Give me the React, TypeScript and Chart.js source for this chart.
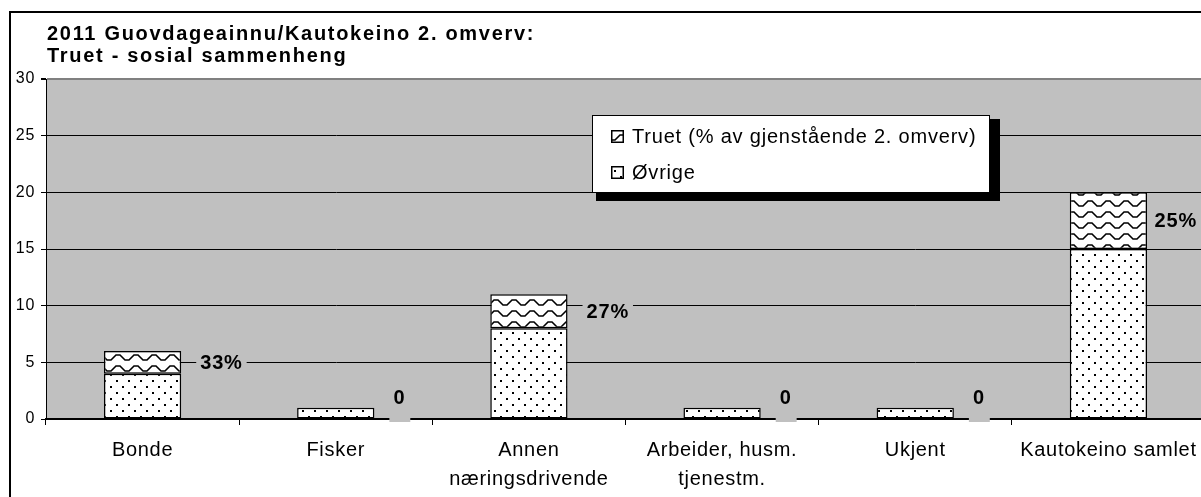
import React, { useEffect, useRef } from 'react';
import { Chart, registerables } from 'chart.js';

Chart.register(...registerables);

const categories: string[][] = [
  ['Bonde'],
  ['Fisker'],
  ['Annen', 'næringsdrivende'],
  ['Arbeider, husm.', 'tjenestm.'],
  ['Ukjent'],
  ['Kautokeino samlet'],
];
const ovrige: number[] = [4, 1, 8, 1, 1, 15];
const truet: number[] = [2, 0, 3, 0, 0, 5];
const yTickValues: number[] = [0, 5, 10, 15, 20, 25, 30];
const titleLines: string[] = ['2011 Guovdageainnu/Kautokeino 2. omverv:', 'Truet - sosial sammenheng'];
const seriesNames: string[] = ['Truet (% av gjenstående 2. omverv)', 'Øvrige'];

const FONT = '"Liberation Sans", Arial, sans-serif';
const W = 1230;
const H = 497;

function dotPattern(ctx: CanvasRenderingContext2D) {
  const c = document.createElement('canvas');
  c.width = 12;
  c.height = 12;
  const g = c.getContext('2d')!;
  g.fillStyle = '#fff';
  g.fillRect(0, 0, 12, 12);
  g.fillStyle = '#000';
  g.fillRect(2, 2, 2, 2);
  g.fillRect(8, 8, 2, 2);
  return ctx.createPattern(c, 'repeat')!;
}

function wavePattern(ctx: CanvasRenderingContext2D) {
  const c = document.createElement('canvas');
  c.width = 18;
  c.height = 11;
  const g = c.getContext('2d')!;
  g.fillStyle = '#fff';
  g.fillRect(0, 0, 18, 11);
  g.strokeStyle = '#000';
  g.lineWidth = 1.6;
  g.beginPath();
  g.moveTo(-1, 8);
  g.lineTo(3, 8);
  g.lineTo(8, 3);
  g.lineTo(12, 3);
  g.lineTo(17, 8);
  g.lineTo(19, 8);
  g.stroke();
  return ctx.createPattern(c, 'repeat')!;
}

export default function App() {
  const ref = useRef<HTMLCanvasElement | null>(null);

  useEffect(() => {
    const canvas = ref.current!;
    const ctx = canvas.getContext('2d')!;
    const dots = dotPattern(ctx);
    const waves = wavePattern(ctx);

    const decor = {
      id: 'decor',
      beforeDraw(chart: any) {
        const c = chart.ctx as CanvasRenderingContext2D;
        const a = chart.chartArea;
        c.save();
        c.fillStyle = '#fff';
        c.fillRect(0, 0, W, H);
        // outer frame
        c.fillStyle = '#000';
        c.fillRect(9, 11, 2, H);
        c.fillRect(9, 11, W, 2);
        // plot background
        c.fillStyle = '#c0c0c0';
        c.fillRect(a.left, a.top, a.right - a.left, a.bottom - a.top);
        // title
        (c as any).letterSpacing = '1.7px';
        c.fillStyle = '#000';
        c.font = `bold 20px ${FONT}`;
        c.textAlign = 'left';
        c.textBaseline = 'alphabetic';
        c.fillText(titleLines[0], 47, 40);
        c.fillText(titleLines[1], 47, 62);
        c.restore();
        (c as any).letterSpacing = '0.7px';
      },
      afterDatasetsDraw(chart: any) {
        const c = chart.ctx as CanvasRenderingContext2D;
        const a = chart.chartArea;
        const m0 = chart.getDatasetMeta(0).data;
        const m1 = chart.getDatasetMeta(1).data;
        c.save();
        (c as any).letterSpacing = '0.8px';
        c.font = `bold 20px ${FONT}`;
        c.textBaseline = 'middle';
        c.textAlign = 'left';
        for (let i = 0; i < categories.length; i++) {
          const total = truet[i] + ovrige[i];
          const txt = truet[i] > 0 ? `${Math.round((100 * truet[i]) / total)}%` : '0';
          const el = m0[i];
          const tw = c.measureText(txt).width;
          let left = el.x + el.width / 2 + 19;
          if (left + tw > 1197) left = 1197 - tw;
          let cy: number;
          c.fillStyle = '#c0c0c0';
          if (truet[i] > 0) {
            const t = m1[i];
            cy = (t.y + t.base) / 2;
            c.fillRect(left - 4, cy - 11, tw + 8, 22);
          } else {
            cy = a.bottom - 22;
            c.fillRect(left - 4, cy - 11, tw + 9, a.bottom + 3 - (cy - 11));
          }
          c.fillStyle = '#000';
          c.fillText(txt, left, cy + 1);
        }
        c.restore();
      },
      afterDraw(chart: any) {
        const c = chart.ctx as CanvasRenderingContext2D;
        c.save();
        // legend shadow + box
        c.fillStyle = '#000';
        c.fillRect(596, 119, 404, 82);
        c.fillStyle = '#fff';
        c.fillRect(592, 115, 398, 78);
        c.strokeStyle = '#000';
        c.lineWidth = 1;
        c.strokeRect(592.5, 115.5, 397, 77);
        const items = [
          { name: seriesNames[0], fill: waves, base: 143 },
          { name: seriesNames[1], fill: dots, base: 179 },
        ];
        (c as any).letterSpacing = '0.8px';
        c.font = `20px ${FONT}`;
        c.textAlign = 'left';
        c.textBaseline = 'alphabetic';
        for (const it of items) {
          const sy = it.base - 13;
          c.fillStyle = it.fill as any;
          c.fillRect(611, sy, 13, 13);
          c.strokeStyle = '#000';
          c.lineWidth = 1.5;
          c.strokeRect(611.75, sy + 0.75, 11.5, 11.5);
          c.fillStyle = '#000';
          c.fillText(it.name, 632, it.base);
        }
        c.restore();
      },
    };

    const chart = new Chart(canvas, {
      type: 'bar',
      data: {
        labels: categories,
        datasets: [
          {
            label: seriesNames[1],
            data: ovrige,
            backgroundColor: dots,
            borderColor: '#000',
            borderWidth: 1.5,
            borderSkipped: false,
            barPercentage: 0.4,
            categoryPercentage: 1,
            stack: 's',
          },
          {
            label: seriesNames[0],
            data: truet,
            backgroundColor: waves,
            borderColor: '#000',
            borderWidth: 1.5,
            borderSkipped: false,
            barPercentage: 0.4,
            categoryPercentage: 1,
            stack: 's',
          },
        ],
      },
      options: {
        animation: false,
        responsive: false,
        devicePixelRatio: 1,
        layout: { padding: { top: 79, left: 0, right: 25, bottom: 0 } },
        plugins: { legend: { display: false }, title: { display: false }, tooltip: { enabled: false } },
        scales: {
          x: {
            stacked: true,
            afterFit: (s: any) => {
              s.height = H - 419;
            },
            grid: { display: true, drawOnChartArea: false, drawTicks: true, tickLength: 6, color: '#000', offset: true },
            border: { display: true, color: '#000', width: 2 },
            ticks: {
              color: '#000',
              font: { family: FONT, size: 20, lineHeight: 1.45 },
              padding: 11,
              maxRotation: 0,
              autoSkip: false,
            },
          },
          y: {
            stacked: true,
            min: yTickValues[0],
            max: yTickValues[yTickValues.length - 1],
            afterFit: (s: any) => {
              s.width = 46;
            },
            afterBuildTicks: (s: any) => {
              s.ticks = yTickValues.map((v) => ({ value: v }));
            },
            grid: {
              color: (c: any) => (c.tick && c.tick.value === 30 ? '#808080' : '#000'),
              lineWidth: (c: any) => (c.tick && c.tick.value === 30 ? 2 : 1),
              tickColor: '#000',
              tickLength: 5,
              drawTicks: true,
            },
            border: { display: true, color: '#000', width: 1 },
            ticks: {
              color: '#000',
              font: { family: FONT, size: 16 },
              padding: 6,
            },
          },
        },
      },
      plugins: [decor],
    });
    return () => chart.destroy();
  }, []);

  return (
    <div style={{ position: 'fixed', left: 0, top: 0, width: 1201, height: 497, overflow: 'hidden', background: '#fff' }}>
      <canvas ref={ref} width={W} height={H} style={{ display: 'block', width: W, height: H }} />
    </div>
  );
}
